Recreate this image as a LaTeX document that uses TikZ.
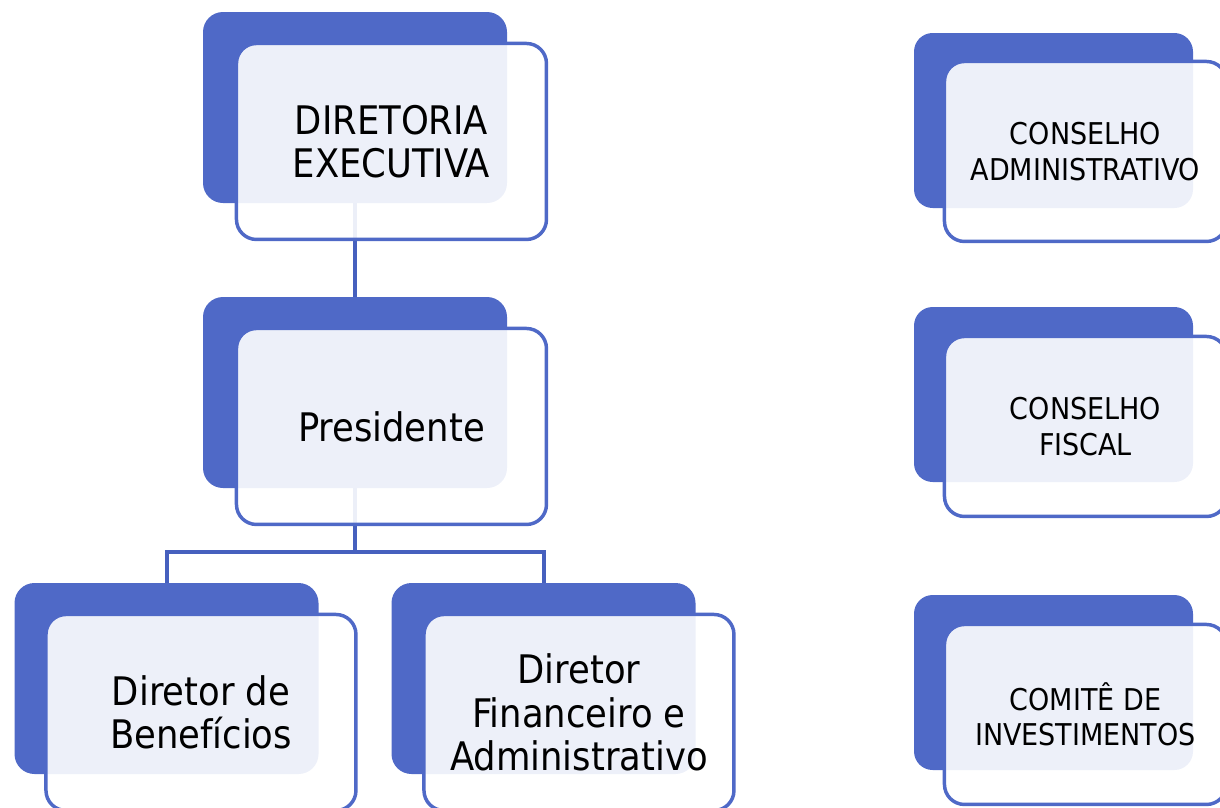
\documentclass[tikz,border=0pt]{standalone}
\usepackage{fontspec}
\setmainfont{DejaVu Sans Condensed}
\usepackage{tikz}
\usetikzlibrary{positioning}

\definecolor{boxblue}{RGB}{79,105,199}
\definecolor{linkblue}{RGB}{70,96,190}

\pgfdeclarelayer{background}
\pgfsetlayers{background,main}

\tikzset{
    backL/.style={fill=boxblue, rounded corners=15pt, minimum width=228pt, minimum height=143.25pt, inner sep=0pt},
    backR/.style={fill=boxblue, rounded corners=14pt, minimum width=209.25pt, minimum height=131.25pt, inner sep=0pt},
    front/.style={draw=boxblue, line width=2.6pt, fill=white, fill opacity=0.9, text opacity=1,
        rounded corners=15pt, anchor=north west, align=center, inner sep=0pt},
    frontL/.style={front, minimum width=232.5pt, minimum height=147pt, font=\fontsize{29.5}{32.5}\selectfont},
    frontR/.style={front, minimum width=211.5pt, minimum height=135pt, font=\fontsize{22.5}{26.5}\selectfont},
    link/.style={draw=linkblue, line width=3pt},
}

\begin{document}
\begin{tikzpicture}[x=0.75pt,y=-0.75pt]
    \clip (0,0) rectangle (1220,807);
    % left tree
    \node[backL] (dirB) at (355,107.5) {};
    \node[frontL] (dirF) at ([shift={(32,30)}]dirB.north west) {DIRETORIA\\EXECUTIVA};
    \node[backL] (presB) at (355,392.5) {};
    \node[frontL] (presF) at ([shift={(32,30)}]presB.north west) {Presidente};
    \node[backL] (benB) at (166.5,678.5) {};
    \node[frontL] (benF) at ([shift={(30,30)}]benB.north west) {Diretor de\\Benefícios};
    \node[backL] (finB) at (543.5,678.5) {};
    \node[frontL] (finF) at ([shift={(31,30)}]finB.north west) {Diretor\\Financeiro e\\Administrativo};
    % right column
    \node[backR] (conB) at (1053.5,120.5) {};
    \node[frontR] (conF) at ([shift={(29,27)}]conB.north west) {CONSELHO\\ADMINISTRATIVO};
    \node[backR] (fisB) at (1053.5,394.5) {};
    \node[frontR] (fisF) at ([shift={(29,28)}]fisB.north west) {CONSELHO\\FISCAL};
    \node[backR] (comB) at (1053.5,682.5) {};
    \node[frontR] (comF) at ([shift={(29,28)}]comB.north west) {COMITÊ DE\\INVESTIMENTOS};
    % connectors, behind the boxes
    \begin{pgfonlayer}{background}
        \draw[link] (dirB.south) -- (presB.north);
        \draw[link] (presB.south) -- ++(0,64) -| (benB.north);
        \draw[link] (presB.south) -- ++(0,64) -| (finB.north);
    \end{pgfonlayer}
\end{tikzpicture}
\end{document}
